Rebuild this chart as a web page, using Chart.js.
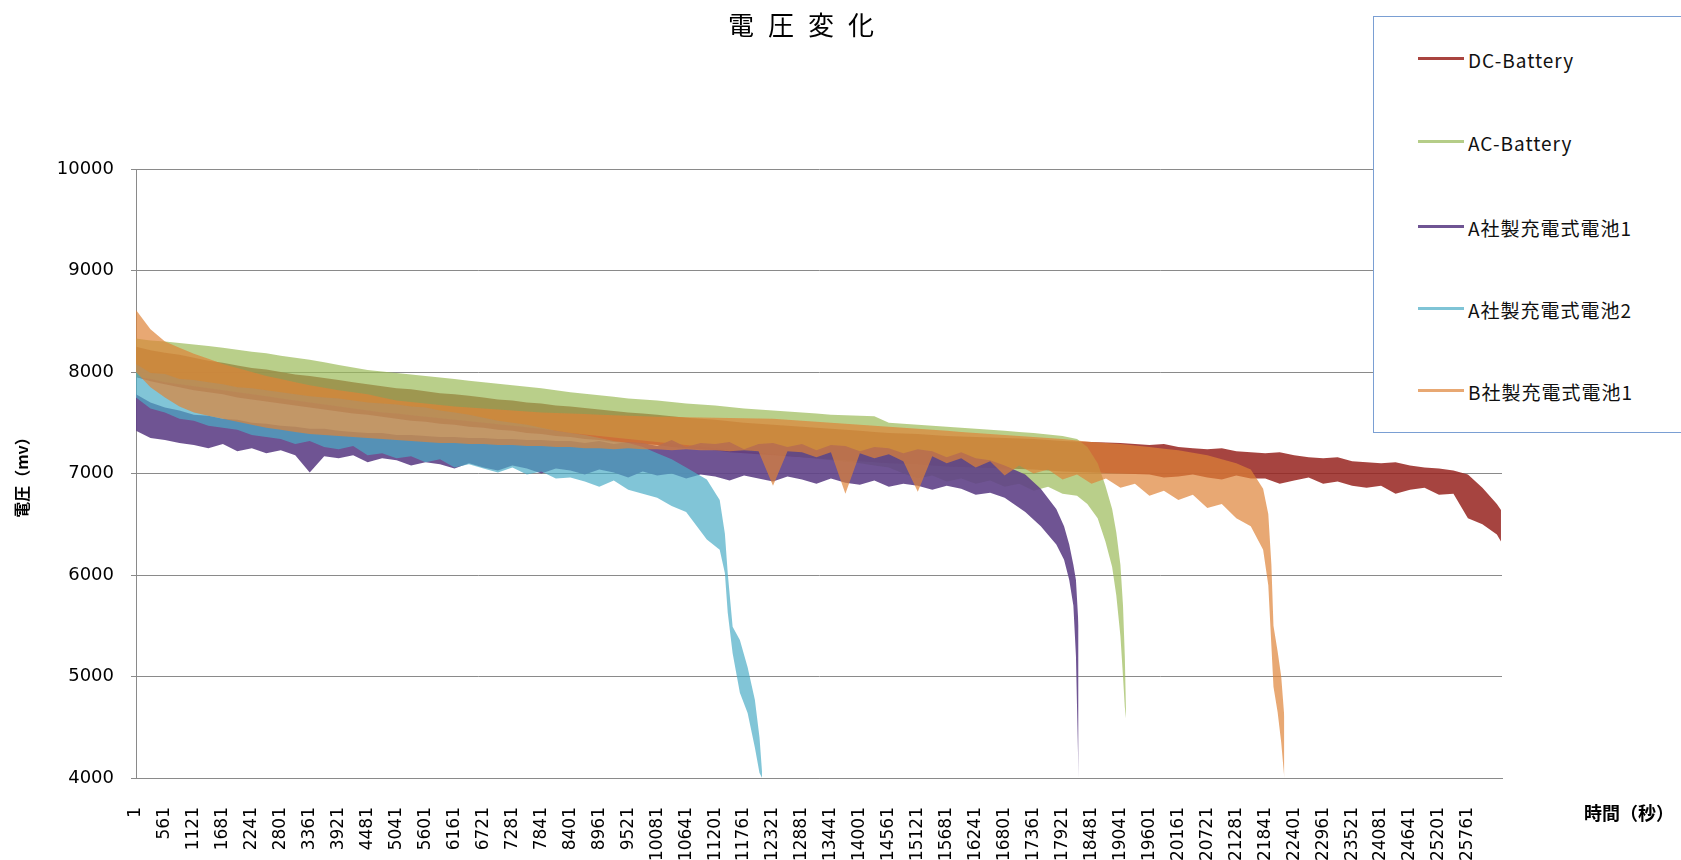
<!DOCTYPE html>
<html>
<head>
<meta charset="utf-8">
<script src="https://cdn.jsdelivr.net/npm/chart.js@4.4.1/dist/chart.umd.min.js"></script>
<style>
  body { margin: 0; background: #fff; }
  #wrap { position: relative; width: 1681px; height: 860px; overflow: hidden; }
  #title { position: absolute; left: 728px; top: 11px; font: 26px "Noto Sans CJK JP"; letter-spacing: 14px; line-height: 26px; white-space: nowrap; color: #000; }
  #legend { position: absolute; left: 1373px; top: 16px; width: 330px; height: 415px; border: 1.5px solid #7a9fd3; background: #fff; }
  .item { position: absolute; left: 0; height: 24px; line-height: 24px; font: 19px "Noto Sans CJK JP"; white-space: nowrap; color: #111; }
  .item i { position: absolute; left: 44px; top: 11px; width: 46px; height: 3px; }
  .item span { position: absolute; left: 94px; top: 0; letter-spacing: 1px; }
  #xtitle { position: absolute; left: 1584px; top: 801px; font: bold 18px "Noto Sans CJK JP"; line-height: 22px; color: #000; white-space: nowrap; }
</style>
</head>
<body>
<div id="wrap">
  <canvas id="c" width="1681" height="860"></canvas>
  <div id="title">電圧変化</div>
  <div id="legend"></div>
  <div id="xtitle">時間（秒）</div>
</div>
<script>
// x tick labels (seconds), one every 560 s
const xTicks = [1, 561, 1121, 1681, 2241, 2801, 3361, 3921, 4481, 5041, 5601, 6161, 6721, 7281, 7841, 8401,
  8961, 9521, 10081, 10641, 11201, 11761, 12321, 12881, 13441, 14001, 14561, 15121, 15681, 16241, 16801,
  17361, 17921, 18481, 19041, 19601, 20161, 20721, 21281, 21841, 22401, 22961, 23521, 24081, 24641, 25201, 25761];

// sample times: every 280 s from 1 s
const t280 = [];
for (let k = 0; k < 95; k++) t280.push(1 + 280 * k);

// each series = upper and lower edge of its noisy band (mV)
const dcT = t280.slice(0, 95).concat([26400]);
const dcHi = [8250, 8215, 8190, 8170, 8140, 8110, 8090, 8065, 8040, 8025,
  8000, 7975, 7960, 7940, 7920, 7900, 7880, 7860, 7840, 7830,
  7810, 7790, 7780, 7765, 7750, 7730, 7720, 7700, 7690, 7670,
  7660, 7645, 7630, 7615, 7600, 7590, 7580, 7565, 7550, 7540,
  7530, 7515, 7500, 7490, 7480, 7470, 7460, 7450, 7440, 7430,
  7420, 7410, 7400, 7395, 7390, 7380, 7370, 7365, 7360, 7355,
  7350, 7345, 7340, 7330, 7320, 7315, 7310, 7305, 7300, 7290,
  7280, 7290, 7260, 7250, 7240, 7250, 7220, 7210, 7200, 7210,
  7180, 7160, 7150, 7160, 7120, 7110, 7100, 7110, 7080, 7060,
  7050, 7030, 6990, 6860, 6700, 6640];
const dcLo = [7950, 7910, 7880, 7850, 7820, 7800, 7780, 7750, 7730, 7710,
  7690, 7670, 7650, 7630, 7610, 7590, 7580, 7560, 7540, 7520,
  7510, 7490, 7480, 7460, 7450, 7430, 7420, 7400, 7390, 7370,
  7360, 7340, 7330, 7310, 7300, 7290, 7280, 7260, 7250, 7240,
  7230, 7210, 7200, 7190, 7180, 7170, 7160, 7150, 7140, 7130,
  7120, 7110, 7100, 7095, 7090, 7080, 7070, 7065, 7060, 7055,
  7050, 7045, 7040, 7030, 7020, 7015, 7010, 7005, 7000, 6995,
  6990, 6960, 6970, 6990, 6960, 6940, 6980, 6950, 6950, 6900,
  6930, 6960, 6900, 6920, 6880, 6860, 6880, 6800, 6840, 6860,
  6790, 6800, 6560, 6500, 6400, 6330];

const acT = t280.slice(0, 66).concat([18400, 18600, 18750, 18880, 18960, 19040, 19090, 19125, 19150]);
const acHi = [8330, 8310, 8300, 8285, 8270, 8255, 8240, 8220, 8200, 8185,
  8160, 8140, 8120, 8095, 8070, 8045, 8020, 8005, 7990, 7975,
  7960, 7945, 7930, 7915, 7900, 7885, 7870, 7855, 7840, 7820,
  7800, 7785, 7770, 7755, 7740, 7730, 7720, 7705, 7690, 7680,
  7670, 7655, 7640, 7630, 7620, 7610, 7600, 7590, 7580, 7575,
  7570, 7565, 7500, 7490, 7480, 7470, 7460, 7450, 7440, 7430,
  7420, 7410, 7400, 7385, 7370, 7340,
  7260, 7100, 6880, 6650, 6420, 6100, 5700, 5200, 4600];
const acLo = [7950, 7930, 7900, 7880, 7860, 7840, 7820, 7800, 7780, 7760,
  7740, 7720, 7700, 7680, 7660, 7640, 7620, 7600, 7590, 7575,
  7560, 7545, 7530, 7515, 7500, 7485, 7470, 7455, 7440, 7420,
  7400, 7385, 7370, 7355, 7340, 7325, 7310, 7295, 7280, 7265,
  7250, 7235, 7220, 7205, 7190, 7175, 7160, 7145, 7130, 7115,
  7100, 7080, 7060, 7000, 6950, 6980, 6920, 6950, 6900, 6930,
  6870, 6900, 6830, 6870, 6800, 6780,
  6700, 6560, 6330, 6080, 5800, 5400, 5000, 4700, 4580];

const a1T = t280.slice(0, 61).concat([17200, 17500, 17800, 17950, 18050, 18130, 18180, 18230]);
const a1Hi = [7780, 7700, 7650, 7620, 7580, 7570, 7540, 7530, 7500, 7490,
  7470, 7460, 7440, 7440, 7420, 7410, 7400, 7400, 7380, 7380,
  7370, 7360, 7360, 7350, 7350, 7340, 7340, 7330, 7330, 7320,
  7320, 7300, 7320, 7290, 7310, 7300, 7270, 7330, 7260, 7300,
  7290, 7310, 7240, 7290, 7300, 7260, 7290, 7230, 7280, 7270,
  7220, 7260, 7250, 7200, 7240, 7220, 7160, 7210, 7150, 7130,
  7080,
  6990, 6850, 6650, 6480, 6300, 6100, 5950, 5500];
const a1Lo = [7420, 7350, 7330, 7300, 7280, 7250, 7290, 7220, 7250, 7200,
  7230, 7180, 7010, 7170, 7150, 7180, 7110, 7150, 7130, 7080,
  7110, 7090, 7050, 7100, 7060, 7030, 7080, 7050, 7000, 7050,
  7030, 6990, 7040, 7010, 6960, 7020, 6980, 7000, 6950, 6990,
  6970, 6930, 6980, 6950, 6920, 6970, 6940, 6900, 6950, 6910,
  6890, 6930, 6870, 6900, 6880, 6840, 6880, 6850, 6790, 6810,
  6760,
  6620, 6480, 6300, 6150, 5950, 5700, 5200, 4000];

const a2T = t280.slice(0, 39).concat([11041, 11290, 11390, 11445, 11540, 11680, 11830, 11970, 12060, 12110]);
const a2Hi = [8080, 7990, 7980, 7930, 7920, 7900, 7880, 7850, 7840, 7820,
  7800, 7780, 7760, 7750, 7740, 7720, 7700, 7690, 7680, 7660,
  7650, 7620, 7600, 7580, 7550, 7520, 7500, 7480, 7450, 7420,
  7400, 7380, 7350, 7320, 7300, 7260, 7200, 7140, 7060,
  6940, 6740, 6410, 6020, 5490, 5360, 5090, 4770, 4400, 4050];
const a2Lo = [7750, 7640, 7600, 7540, 7520, 7470, 7450, 7430, 7380, 7360,
  7340, 7290, 7320, 7260, 7240, 7270, 7180, 7200, 7150, 7170,
  7110, 7140, 7060, 7090, 7050, 7010, 7060, 6990, 7020, 6950,
  6960, 6920, 6870, 6930, 6840, 6800, 6760, 6680, 6620,
  6350, 6250, 6020, 5630, 5230, 4840, 4640, 4300, 4050, 4000];

const bT = t280.slice(0, 78).concat([21800, 21900, 21960, 22000, 22080, 22150, 22210]);
const bHi = [8610, 8420, 8300, 8240, 8180, 8130, 8080, 8040, 8000, 7960,
  7930, 7900, 7870, 7845, 7820, 7800, 7780, 7750, 7720, 7705,
  7690, 7675, 7660, 7650, 7640, 7630, 7620, 7610, 7600, 7595,
  7590, 7585, 7580, 7575, 7570, 7565, 7560, 7558, 7555, 7552,
  7550, 7548, 7545, 7542, 7540, 7530, 7520, 7510, 7500, 7490,
  7480, 7470, 7460, 7450, 7440, 7430, 7420, 7410, 7400, 7390,
  7380, 7370, 7360, 7350, 7340, 7325, 7310, 7300, 7290, 7275,
  7260, 7245, 7230, 7205, 7180, 7140, 7100, 7040,
  6850, 6600, 6100, 5500, 5250, 5000, 4600];
const bLo = [8000, 7850, 7750, 7660, 7600, 7570, 7540, 7510, 7480, 7450,
  7430, 7410, 7390, 7380, 7370, 7360, 7350, 7340, 7330, 7320,
  7310, 7300, 7300, 7290, 7290, 7280, 7280, 7270, 7270, 7260,
  7260, 7250, 7250, 7240, 7250, 7240, 7240, 7230, 7240, 7230,
  7230, 7220, 7230, 7220, 6880, 7220, 7210, 7160, 7210, 6800,
  7200, 7150, 7190, 7120, 6820, 7170, 7100, 7150, 7060, 7120,
  6980, 7080, 7000, 7040, 6940, 6990, 6900, 6950, 6860, 6900,
  6780, 6830, 6740, 6790, 6660, 6700, 6560, 6480,
  6250, 5900, 5300, 4900, 4650, 4350, 4000];

const seriesNames = ["DC-Battery", "AC-Battery", "A社製充電式電池1", "A社製充電式電池2", "B社製充電式電池1"];
const fillColors = ["rgba(150,35,30,0.85)", "rgba(155,187,89,0.7)", "rgba(95,65,135,0.9)",
  "rgba(75,172,198,0.7)", "rgba(222,131,55,0.7)"];
const legendColors = ["#a9443f", "#b5cd88", "#6f5493", "#7fc4d6", "#e8a873"];

const bands = [[dcT, dcHi, dcLo], [acT, acHi, acLo], [a1T, a1Hi, a1Lo], [a2T, a2Hi, a2Lo], [bT, bHi, bLo]];

function pts(t, v) {
  return t.map((x, i) => ({x: x, y: v[i]}));
}

const datasets = [];
bands.forEach((b, i) => {
  datasets.push({
    label: seriesNames[i], data: pts(b[0], b[1]),
    backgroundColor: fillColors[i], borderColor: "rgba(0,0,0,0)", borderWidth: 1,
    fill: "+1", order: 5 - i, pointRadius: 0, tension: 0
  });
  datasets.push({
    label: seriesNames[i] + " lo", data: pts(b[0], b[2]),
    borderColor: "rgba(0,0,0,0)", borderWidth: 1,
    fill: false, order: 5 - i, pointRadius: 0, tension: 0
  });
});

// legend box
const legend = document.getElementById("legend");
const rowY = [41, 124, 209, 291, 373];
seriesNames.forEach((name, i) => {
  const row = document.createElement("div");
  row.className = "item";
  row.style.top = (rowY[i] - 12) + "px";
  row.innerHTML = '<i style="background:' + legendColors[i] + '"></i><span>' + name + '</span>';
  legend.appendChild(row);
});

const gridGrey = "#8a8a8a";
new Chart(document.getElementById("c"), {
  type: "line",
  data: { datasets: datasets },
  options: {
    responsive: false,
    animation: false,
    events: [],
    layout: { padding: { top: 169, right: 179, bottom: 0, left: 0 } },
    plugins: { legend: { display: false }, tooltip: { enabled: false }, title: { display: false } },
    scales: {
      x: {
        type: "linear",
        min: 1,
        max: 26420,
        grid: { display: false },
        border: { display: true, color: gridGrey, width: 1 },
        ticks: {
          autoSkip: false, minRotation: 90, maxRotation: 90, padding: 21,
          color: "#000", font: { family: "DejaVu Sans", size: 17 },
          callback: v => String(v)
        },
        afterBuildTicks: s => { s.ticks = xTicks.map(v => ({ value: v })); },
        afterFit: s => { s.height = 82; }
      },
      y: {
        min: 4000,
        max: 10000,
        grid: { color: gridGrey, lineWidth: 1, tickLength: 5 },
        border: { display: true, color: gridGrey, width: 1 },
        ticks: {
          stepSize: 1000, padding: 17, color: "#000", font: { family: "DejaVu Sans", size: 18 },
          callback: v => String(v)
        },
        title: {
          display: true, text: "電圧（mv）", color: "#000",
          font: { family: "Noto Sans CJK JP", size: 16, weight: "bold" },
          padding: { top: 12, bottom: 0 }
        },
        afterFit: s => { s.width = 136; }
      }
    }
  }
});
</script>
</body>
</html>
